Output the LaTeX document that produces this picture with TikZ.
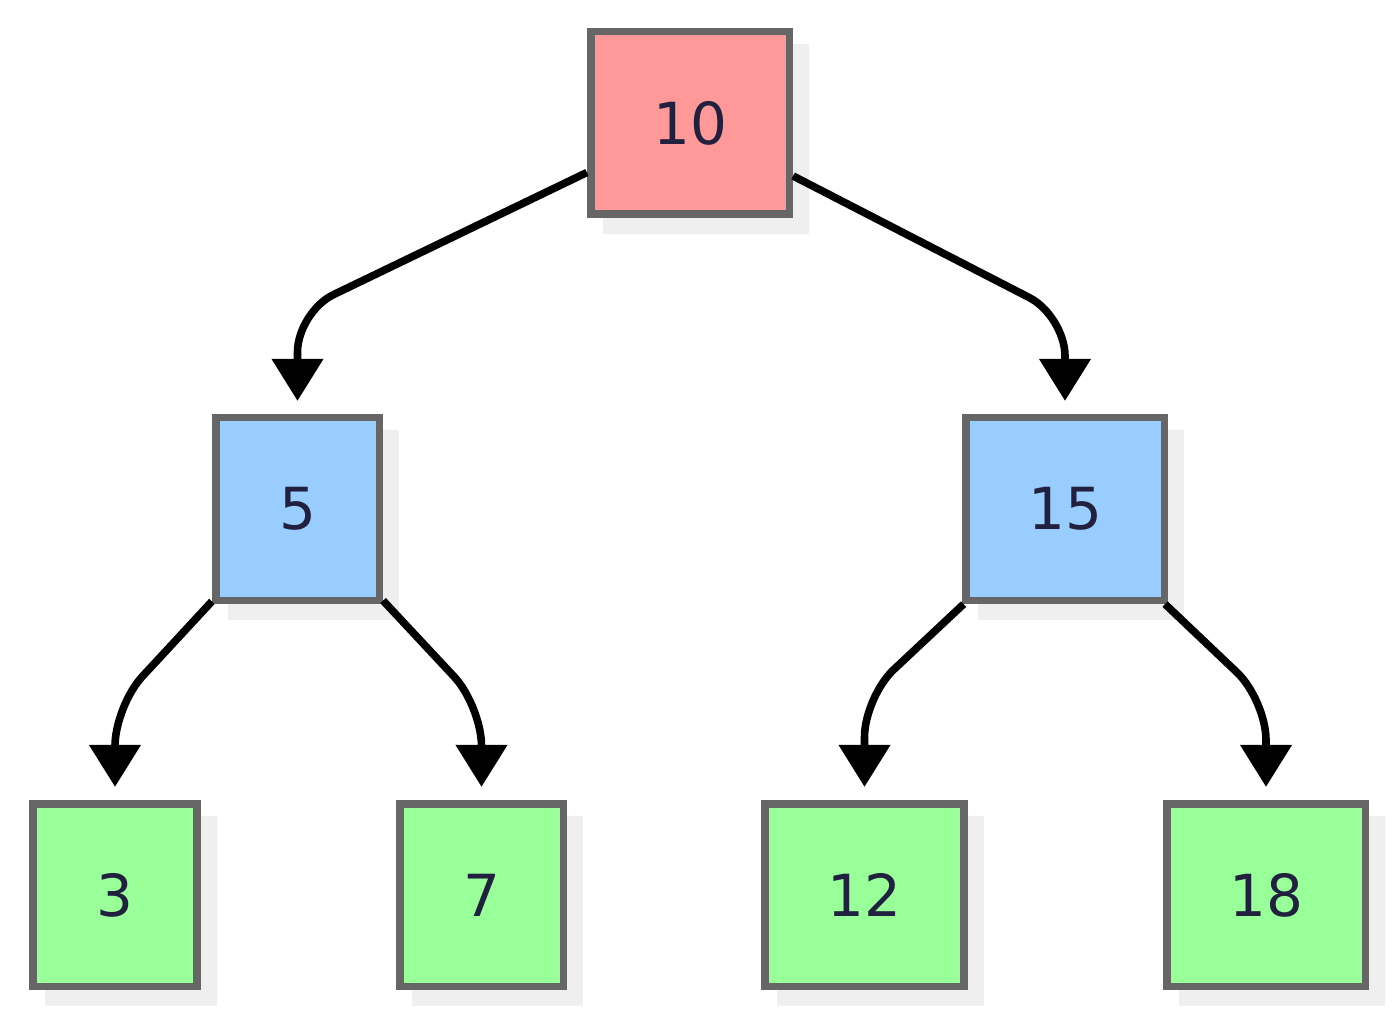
\documentclass[tikz,border=0pt]{standalone}
\usepackage{fontspec}
\setmainfont{DejaVu Sans}
\usetikzlibrary{arrows.meta, shadows}
\definecolor{rootred}{HTML}{FF9999}
\definecolor{innerblue}{HTML}{99CCFF}
\definecolor{leafgreen}{HTML}{99FF99}
\definecolor{boxgray}{HTML}{666666}
\definecolor{shadowgray}{HTML}{EFEFEF}
\definecolor{labelnavy}{RGB}{33,32,62}

\begin{document}
\begin{tikzpicture}[x=0.5pt, y=-0.5pt,
    treebox/.style={rectangle, draw=boxgray, line width=3.8pt, minimum height=91.3pt,
        text=labelnavy, font=\fontsize{29}{35}\selectfont,
        drop shadow={shadow xshift=8pt, shadow yshift=-8pt, fill=shadowgray,
            draw=shadowgray, line width=3.8pt, opacity=1}},
    narrow/.style={treebox, minimum width=81.8pt},
    wide/.style={treebox, minimum width=99.3pt},
    edge/.style={line width=3.8pt, rounded corners=20pt, shorten >=6.5pt,
        -{Triangle[length=21pt, width=25pt]}}]
    % Canvas
    \useasboundingbox (0,0) rectangle (1400,1020);

    % Draw root
    \node[wide, fill=rootred] (root) at (690,123) {10};

    % Draw inner nodes
    \node[narrow, fill=innerblue] (n5) at (297.5,509) {5};
    \node[wide, fill=innerblue] (n15) at (1065,509) {15};

    % Draw leaves
    \node[narrow, fill=leafgreen] (n3) at (115,895) {3};
    \node[narrow, fill=leafgreen] (n7) at (481.5,895) {7};
    \node[wide, fill=leafgreen] (n12) at (864.5,895) {12};
    \node[wide, fill=leafgreen] (n18) at (1266,895) {18};

    % Bends of the edges
    \coordinate (c5) at (297.5,312);
    \coordinate (c15) at (1065,316);
    \coordinate (c3) at (115,706);
    \coordinate (c7) at (481.5,706);
    \coordinate (c12) at (864.5,697);
    \coordinate (c18) at (1266,700);

    % Draw edges
    \draw[edge] (root) -- (c5) -- (n5);
    \draw[edge] (root) -- (c15) -- (n15);
    \draw[edge] (n5) -- (c3) -- (n3);
    \draw[edge] (n5) -- (c7) -- (n7);
    \draw[edge] (n15) -- (c12) -- (n12);
    \draw[edge] (n15) -- (c18) -- (n18);
\end{tikzpicture}
\end{document}
